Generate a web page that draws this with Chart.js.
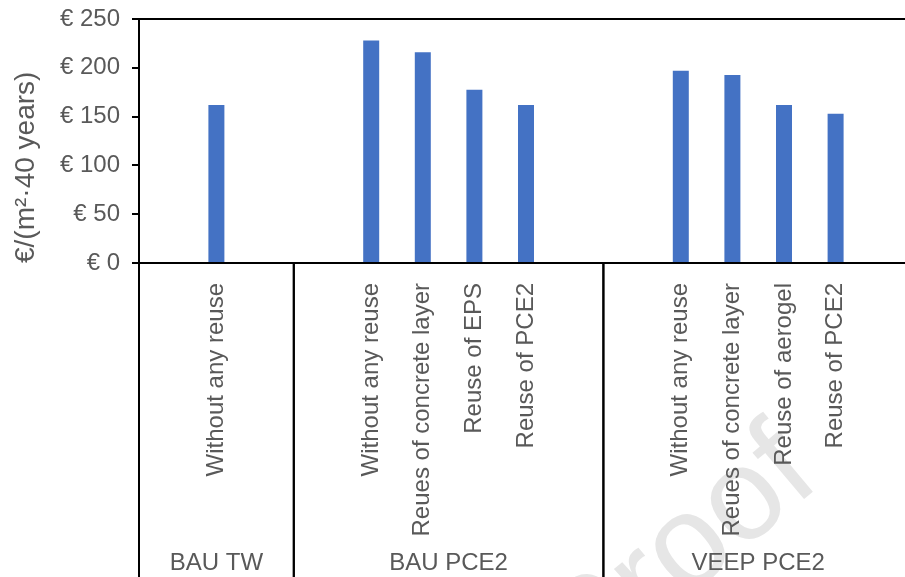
<!DOCTYPE html>
<html>
<head>
<meta charset="utf-8">
<script src="https://cdn.jsdelivr.net/npm/chart.js@4/dist/chart.umd.min.js"></script>
<style>
  html, body { margin: 0; padding: 0; background: #fff; overflow: hidden; width: 905px; height: 577px; }
  canvas { display: block; }
</style>
</head>
<body>
<canvas id="costChart" width="914" height="577"></canvas>
<script>
// Life-cycle cost per m² of wall over 40 years, by wall system and reuse scenario
const groupNames = ['BAU TW', 'BAU PCE2', 'VEEP PCE2'];

const bauTwScenarios = ['Without any reuse'];
const bauTwCosts = [162];

const bauPce2Scenarios = ['Without any reuse', 'Reues of concrete layer', 'Reuse of EPS', 'Reuse of PCE2'];
const bauPce2Costs = [228, 216, 177.5, 162];

const veepPce2Scenarios = ['Without any reuse', 'Reues of concrete layer', 'Reuse of aerogel', 'Reuse of PCE2'];
const veepPce2Costs = [197, 192.5, 162, 153];

const yTickValues = [0, 50, 100, 150, 200, 250];
const yAxisTitle = '€/(m²·40 years)';

const FONT = '"Liberation Sans", Arial, Helvetica, sans-serif';
const TEXT_COLOR = '#595959';
const BAR_COLOR = '#4472C4';

// Each group gets an empty slot on either side, like a spaced category axis
const groups = [
  { name: groupNames[0], scenarios: bauTwScenarios, costs: bauTwCosts },
  { name: groupNames[1], scenarios: bauPce2Scenarios, costs: bauPce2Costs },
  { name: groupNames[2], scenarios: veepPce2Scenarios, costs: veepPce2Costs }
];
const slotLabels = [];
const slotValues = [];
const groupSpans = [];
groups.forEach(g => {
  const start = slotLabels.length;
  slotLabels.push(''); slotValues.push(null);
  g.scenarios.forEach((s, i) => { slotLabels.push(s); slotValues.push(g.costs[i]); });
  slotLabels.push(''); slotValues.push(null);
  groupSpans.push({ name: g.name, start: start, end: slotLabels.length - 1 });
});

// Faint stamp behind the chart
const stampPlugin = {
  id: 'stamp',
  beforeDraw(chart) {
    const ctx = chart.ctx;
    ctx.save();
    ctx.translate(585, 683);
    ctx.rotate(-40 * Math.PI / 180);
    ctx.fillStyle = '#e6e6e6';
    ctx.font = '130px ' + FONT;
    ctx.textBaseline = 'alphabetic';
    ctx.fillText('Proof', 0, 0);
    ctx.restore();
  }
};

// Group separators and group names under the rotated scenario labels
const groupAxisPlugin = {
  id: 'groupAxis',
  afterDraw(chart) {
    const x = chart.scales.x;
    const ctx = chart.ctx;
    const half = (x.getPixelForValue(1) - x.getPixelForValue(0)) / 2;
    const top = chart.chartArea.bottom;
    const bottom = chart.height;
    ctx.save();
    ctx.strokeStyle = '#000';
    ctx.lineWidth = 2;
    groupSpans.forEach(span => {
      const left = x.getPixelForValue(span.start) - half;
      const right = x.getPixelForValue(span.end) + half;
      [left, right].forEach(px => {
        ctx.beginPath();
        ctx.moveTo(px, top);
        ctx.lineTo(px, bottom);
        ctx.stroke();
      });
      ctx.fillStyle = TEXT_COLOR;
      ctx.font = '24px ' + FONT;
      ctx.textAlign = 'center';
      ctx.textBaseline = 'alphabetic';
      ctx.fillText(span.name, (left + right) / 2, 570);
    });
    ctx.restore();
  }
};

// Keep the plot edges where the layout padding puts them
function noScalePadding(scale) {
  scale.paddingLeft = 0;
  scale.paddingRight = 0;
  scale.paddingTop = 0;
  scale.paddingBottom = 0;
}

new Chart(document.getElementById('costChart'), {
  type: 'bar',
  data: {
    labels: slotLabels,
    datasets: [{
      data: slotValues,
      backgroundColor: BAR_COLOR,
      borderWidth: 0,
      categoryPercentage: 1,
      barPercentage: 0.31
    }]
  },
  options: {
    responsive: false,
    animation: false,
    events: [],
    layout: { padding: { top: 19, left: 0, right: 1, bottom: 0 } },
    plugins: { legend: { display: false }, tooltip: { enabled: false } },
    scales: {
      x: {
        afterFit(scale) { scale.height = 314; noScalePadding(scale); },
        grid: { display: false, drawTicks: false },
        border: { display: true, color: '#000', width: 2 },
        ticks: {
          autoSkip: false,
          maxRotation: 90,
          minRotation: 90,
          padding: 20,
          color: TEXT_COLOR,
          font: { family: FONT, size: 24 }
        }
      },
      y: {
        min: 0,
        max: 250,
        afterFit(scale) { scale.width = 139; noScalePadding(scale); },
        afterBuildTicks(scale) { scale.ticks = yTickValues.map(v => ({ value: v })); },
        grid: {
          color: ctx => (ctx.tick && ctx.tick.value === 250 ? '#000' : 'rgba(0,0,0,0)'),
          lineWidth: 2,
          tickColor: '#000',
          tickLength: 7
        },
        border: { display: true, color: '#000', width: 2 },
        ticks: {
          padding: 12,
          color: TEXT_COLOR,
          font: { family: FONT, size: 24 },
          callback: v => '€ ' + v
        },
        title: {
          display: true,
          text: yAxisTitle,
          align: 'start',
          color: TEXT_COLOR,
          font: { family: FONT, size: 28 },
          padding: { top: 9, bottom: 0 }
        }
      }
    }
  },
  plugins: [stampPlugin, groupAxisPlugin]
});
</script>
</body>
</html>
